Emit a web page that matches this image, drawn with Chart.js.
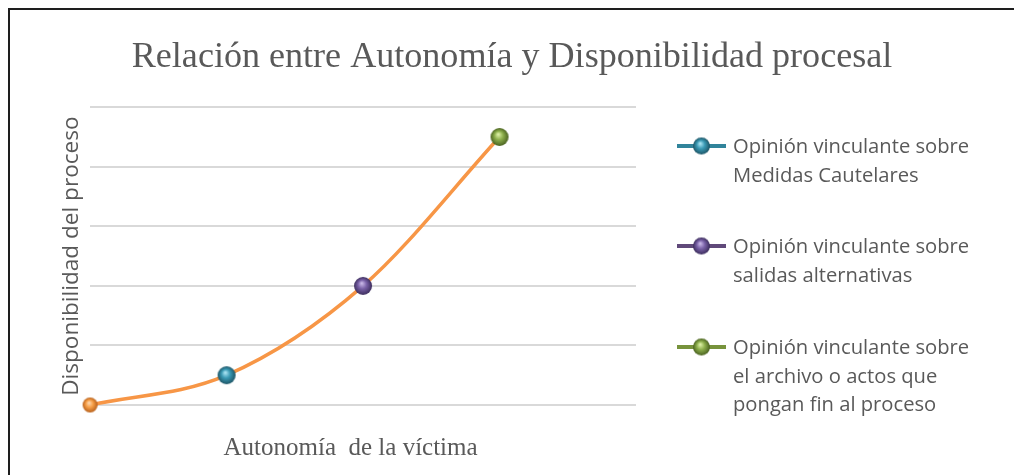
<!DOCTYPE html>
<html lang="es">
<head>
    <meta charset="UTF-8">
    <title>Relación entre Autonomía y Disponibilidad procesal</title>
    <script src="https://cdn.jsdelivr.net/npm/chart.js"></script>
    <style>
        body {
            margin: 0;
            width: 1014px;
            height: 475px;
            overflow: hidden;
            background: #fff;
            position: relative;
        }
        #frame {
            position: absolute;
            left: 8px;
            top: 8px;
            width: 1010px;
            height: 480px;
            border-top: 2px solid #1e1e1e;
            border-left: 2px solid #1e1e1e;
        }
        #chartContainer {
            position: absolute;
            left: 10px;
            top: 10px;
            width: 1004px;
            height: 465px;
        }
        #legend {
            position: absolute;
            left: 677px;
            top: 0;
            font-family: "Open Sans", sans-serif;
            font-size: 20.2px;
            color: #595959;
        }
        .item {
            position: absolute;
            left: 0;
            white-space: nowrap;
        }
        .item canvas {
            position: absolute;
            left: 0;
            top: 0;
        }
        .item .txt {
            position: absolute;
            left: 56px;
            top: -15px;
            line-height: 28.5px;
        }
    </style>
</head>
<body>
    <div id="frame"></div>
    <div id="chartContainer">
        <canvas id="lineChart"></canvas>
    </div>
    <div id="legend"></div>
    <script>
        // data
        const xValues = [0, 1, 2, 3];
        const yValues = [0, 0.5, 2, 4.5];
        const seriesNames = [
            ['Opinión vinculante sobre', 'Medidas Cautelares'],
            ['Opinión vinculante sobre', 'salidas alternativas'],
            ['Opinión vinculante sobre', 'el archivo o actos que', 'pongan fin al proceso']
        ];
        // ball colours: [highlight, mid, rim]
        const ballColors = [
            ['#fdd7b0', '#f7a048', '#b8601a'],
            ['#a9e3f2', '#3a9ab5', '#1d5566'],
            ['#c7b6e6', '#7a62a8', '#3b2c5c'],
            ['#dcefa5', '#8daf4c', '#4a6220']
        ];
        const legendLineColors = ['#31849b', '#60497a', '#77933c'];
        const legendY = [146, 246, 347];

        function makeBall(c, d) {
            const cv = document.createElement('canvas');
            cv.width = d + 2;
            cv.height = d + 2;
            const g = cv.getContext('2d');
            const r = d / 2;
            const cx = r + 1, cy = r + 1;
            const grad = g.createRadialGradient(cx - r * 0.15, cy - r * 0.3, r * 0.05, cx, cy, r);
            grad.addColorStop(0, c[0]);
            grad.addColorStop(0.45, c[1]);
            grad.addColorStop(1, c[2]);
            g.fillStyle = grad;
            g.beginPath();
            g.arc(cx, cy, r, 0, Math.PI * 2);
            g.fill();
            return cv;
        }

        const pointImages = ballColors.map((c, i) => makeBall(c, i === 0 ? 15 : 18));

        // legend built from the series arrays
        const legend = document.getElementById('legend');
        seriesNames.forEach((lines, i) => {
            const item = document.createElement('div');
            item.className = 'item';
            item.style.top = legendY[i] + 'px';
            const mk = document.createElement('canvas');
            mk.width = 50;
            mk.height = 20;
            mk.style.top = '-10px';
            const g = mk.getContext('2d');
            g.strokeStyle = legendLineColors[i];
            g.lineWidth = 4;
            g.beginPath();
            g.moveTo(0, 10);
            g.lineTo(49, 10);
            g.stroke();
            g.drawImage(makeBall(ballColors[i + 1], 17), 15, 0.5);
            item.appendChild(mk);
            const txt = document.createElement('div');
            txt.className = 'txt';
            txt.innerHTML = lines.join('<br>');
            item.appendChild(txt);
            legend.appendChild(item);
        });

        const ctx = document.getElementById('lineChart').getContext('2d');

        new Chart(ctx, {
            type: 'line',
            data: {
                datasets: [{
                    data: xValues.map((x, i) => ({ x: x, y: yValues[i] })),
                    borderColor: '#f79646',
                    borderWidth: 3.5,
                    cubicInterpolationMode: 'monotone',
                    pointStyle: pointImages,
                    clip: false
                }]
            },
            options: {
                responsive: true,
                maintainAspectRatio: false,
                animation: false,
                layout: {
                    padding: { left: 0, right: 0, top: 0, bottom: 12 }
                },
                plugins: {
                    legend: { display: false },
                    tooltip: { enabled: false },
                    title: {
                        display: true,
                        text: 'Relación entre Autonomía y Disponibilidad procesal',
                        color: '#595959',
                        font: { family: '"Liberation Serif", "Times New Roman", serif', size: 36.1, weight: 'normal' },
                        padding: { top: 25.5, bottom: 28.4 }
                    }
                },
                scales: {
                    x: {
                        type: 'linear',
                        min: 0,
                        max: 4,
                        grid: { display: false, drawTicks: false },
                        border: { display: false },
                        ticks: { display: false },
                        title: {
                            display: true,
                            text: 'Autonomía  de la víctima    ',
                            color: '#595959',
                            font: { family: '"Liberation Serif", "Times New Roman", serif', size: 25 },
                            padding: { top: 28, bottom: 0 }
                        }
                    },
                    y: {
                        min: 0,
                        max: 5,
                        ticks: { display: false, stepSize: 1 },
                        grid: { color: '#d9d9d9', lineWidth: 2, drawTicks: false },
                        border: { display: false },
                        title: {
                            display: true,
                            text: 'Disponibilidad del proceso',
                            color: '#595959',
                            font: { family: '"Open Sans", sans-serif', size: 22.6 },
                            padding: { top: 48, bottom: 5 }
                        }
                    },
                    // empty axis on the right that keeps room for the legend
                    yRight: {
                        position: 'right',
                        display: true,
                        ticks: { display: false },
                        grid: { display: false, drawTicks: false },
                        border: { display: false },
                        afterFit: (scale) => { scale.width = 378; }
                    }
                }
            }
        });
    </script>
</body>
</html>
